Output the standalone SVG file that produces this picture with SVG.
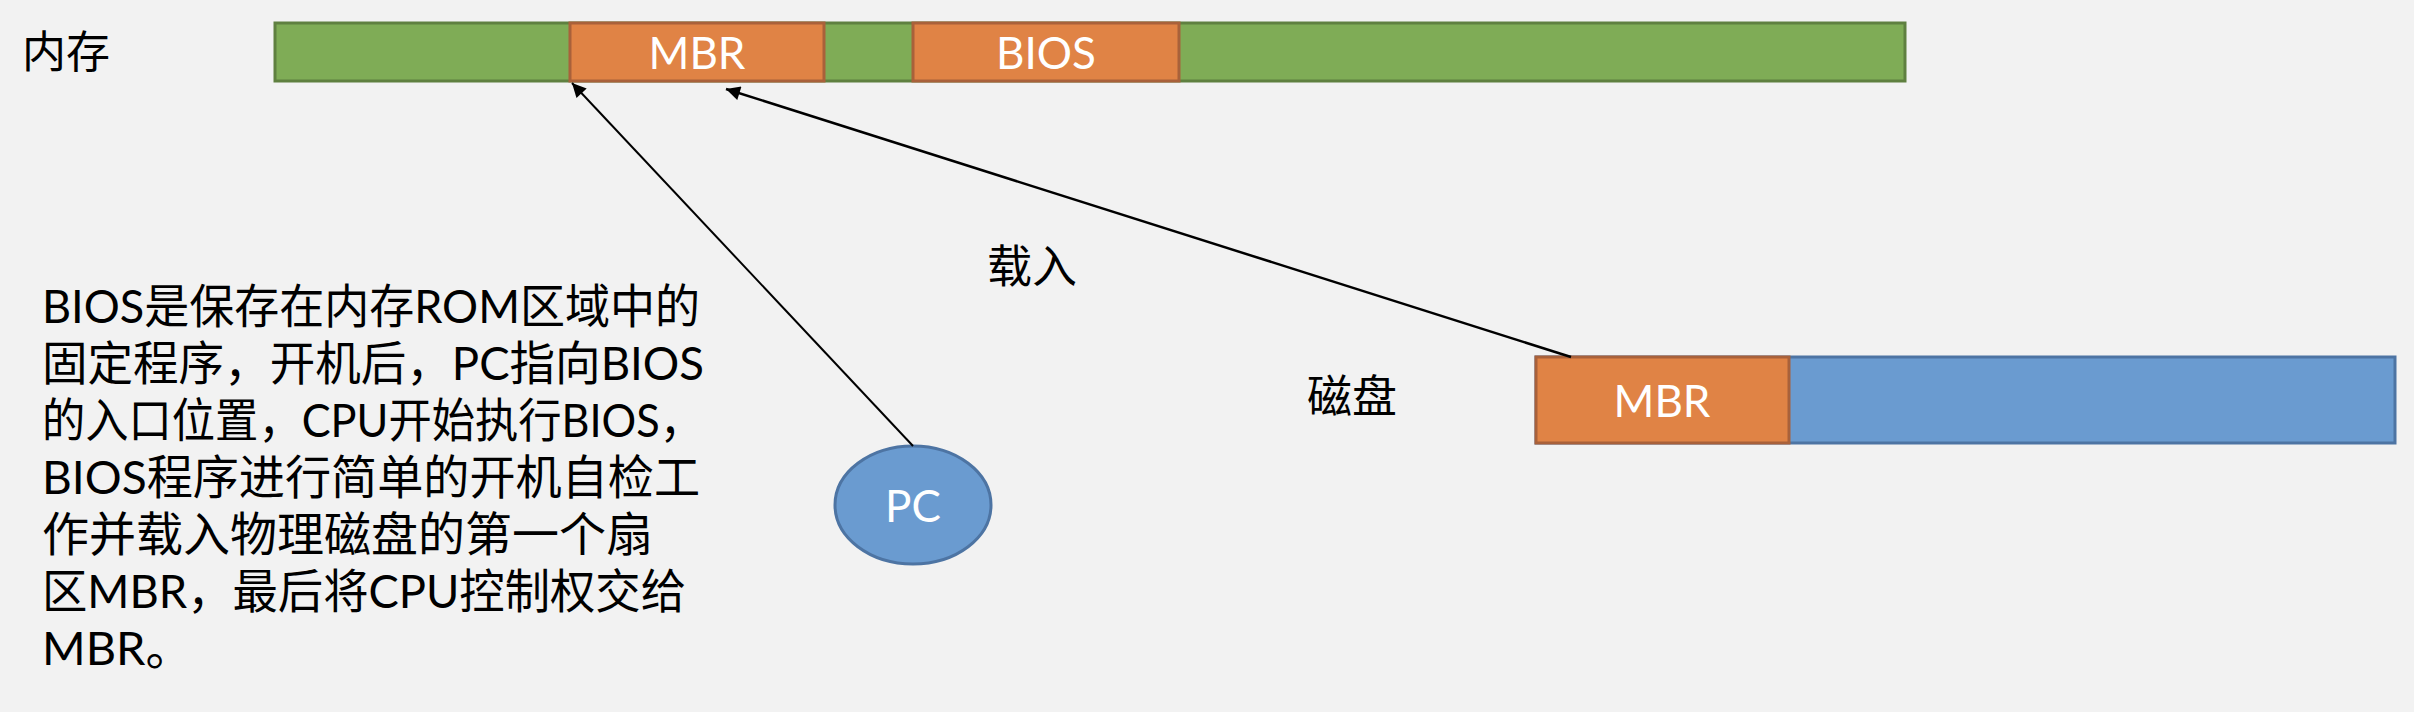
<svg xmlns="http://www.w3.org/2000/svg" width="2414" height="712" viewBox="0 0 2414 712">
<style>
.cjk{font-family:"Noto Sans CJK SC",sans-serif;fill:#000}
.lbl{font-family:Lato,"Noto Sans CJK SC",sans-serif;fill:#fff;text-anchor:middle}
.para{font-family:Lato,"Noto Sans CJK SC",sans-serif;font-size:47px;fill:#000}
.green{fill:#7FAC56;stroke:#5F8040;stroke-width:3}
.orange{fill:#E08345;stroke:#A9613A;stroke-width:3}
.blue{fill:#6A9BD0;stroke:#4D74A3;stroke-width:3}
.conn{stroke:#000;fill:none}
</style>
<defs>
<marker id="ah" viewBox="0 0 10 10" refX="10" refY="5" markerWidth="18" markerHeight="14" markerUnits="userSpaceOnUse" orient="auto">
<path d="M0,0 L10,5 L0,10 z" fill="#000"/>
</marker>
</defs>
<rect width="2414" height="712" fill="#F2F2F2"/>

<g id="memory-label"><text class="cjk" x="22" y="68" font-size="44">内存</text></g>
<g id="memory">
<rect class="green" x="275" y="23" width="1630" height="58"/>
<rect class="orange" x="570" y="23" width="254" height="58"/>
<text class="lbl" x="697" y="69" font-size="44">MBR</text>
<rect class="orange" x="913" y="23" width="266" height="58"/>
<text class="lbl" x="1046" y="69" font-size="44">BIOS</text>
</g>

<g id="disk-label"><text class="cjk" x="1307" y="413" font-size="45">磁盘</text></g>
<g id="disk">
<rect class="blue" x="1536" y="357" width="859" height="86"/>
<rect class="orange" x="1536" y="357" width="253" height="86"/>
<text class="lbl" x="1662" y="417" font-size="44">MBR</text>
</g>

<g id="pc">
<ellipse cx="913" cy="505" rx="78" ry="59" fill="#6A9BD0" stroke="#4D74A3" stroke-width="3"/>
<text class="lbl" x="913" y="522" font-size="44">PC</text>
</g>

<g id="load-label"><text class="cjk" x="987" y="283" font-size="45">载入</text></g>

<g id="connectors">
<line class="conn" x1="913" y1="446" x2="572" y2="83" stroke-width="2" marker-end="url(#ah)"/>
<line class="conn" x1="1571" y1="357" x2="726" y2="89" stroke-width="2.5" marker-end="url(#ah)"/>
</g>

<g id="description" class="para">
<text x="42" y="323" textLength="658" lengthAdjust="spacingAndGlyphs">BIOS是保存在内存ROM区域中的</text>
<text x="42" y="380" textLength="662" lengthAdjust="spacingAndGlyphs">固定程序，开机后，PC指向BIOS</text>
<text x="42" y="437" textLength="661" lengthAdjust="spacingAndGlyphs">的入口位置，CPU开始执行BIOS，</text>
<text x="42" y="494" textLength="658" lengthAdjust="spacingAndGlyphs">BIOS程序进行简单的开机自检工</text>
<text x="42" y="551">作并载入物理磁盘的第一个扇</text>
<text x="42" y="608" textLength="644" lengthAdjust="spacingAndGlyphs">区MBR，最后将CPU控制权交给</text>
<text x="42" y="665">MBR。</text>
</g>
</svg>
